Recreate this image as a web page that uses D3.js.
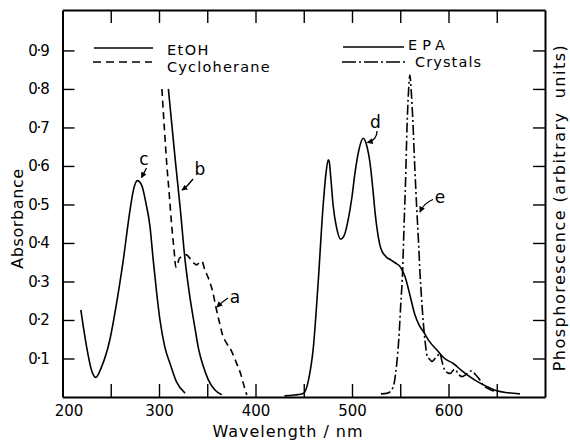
<!DOCTYPE html>
<html><head><meta charset="utf-8">
<script src="https://cdn.jsdelivr.net/npm/d3@7"></script>
<style>
html,body{margin:0;padding:0;background:#fff;}
svg{display:block;font-family:"DejaVu Sans",sans-serif;}
</style></head>
<body>
<svg id="chart" width="570" height="440"></svg>
<script>
// ---- data (wavelength nm, absorbance / relative intensity) ----
const xTicks = [200, 250, 300, 350, 400, 450, 500, 550, 600, 650];
const xLabels = [200, 300, 400, 500, 600];
const yTicks = [0.1, 0.2, 0.3, 0.4, 0.5, 0.6, 0.7, 0.8, 0.9];

// a: Cyclohexane (dashed)
const aWl  = [303, 305.5, 308, 310.5, 313, 315.5, 317.5, 319, 321, 324, 328.5, 332, 336, 339, 342, 344.5, 347.5, 351, 356, 359, 363, 366, 370, 375, 380, 384, 388, 391];
const aAbs = [0.8, 0.7, 0.607, 0.53, 0.45, 0.385, 0.337, 0.342, 0.36, 0.365, 0.369, 0.36, 0.348, 0.343, 0.35, 0.352, 0.33, 0.31, 0.27, 0.233, 0.19, 0.16, 0.14, 0.12, 0.09, 0.065, 0.03, 0.005];
// b: EtOH (solid)
const bWl  = [309.7, 313, 317, 322, 327, 332, 337, 341, 346, 351, 358, 365];
const bAbs = [0.8, 0.715, 0.612, 0.49, 0.356, 0.26, 0.183, 0.125, 0.079, 0.045, 0.018, 0.006];
// c: EtOH (solid)
const cWl  = [219, 225, 230, 234.4, 240.6, 249, 256, 263, 270, 274, 277.5, 282, 286.5, 290.7, 294, 297.6, 301, 306, 311.4, 318, 327];
const cAbs = [0.226, 0.13, 0.07, 0.051, 0.079, 0.148, 0.243, 0.356, 0.486, 0.543, 0.562, 0.55, 0.503, 0.442, 0.356, 0.27, 0.2, 0.13, 0.087, 0.04, 0.01];
// d: EPA (solid)
const dWl  = [430, 440, 450, 455, 460, 465, 470, 473, 475.4, 476.5, 478, 480.6, 484, 488.3, 492, 496, 500, 503, 507, 511.7, 515, 518.7, 522, 524, 527, 530, 535, 540, 545, 550, 555, 560, 565, 570, 574, 580, 588, 596, 605, 613, 622, 630, 640, 650, 662, 674];
const dAbs = [0.003, 0.005, 0.01, 0.045, 0.13, 0.3, 0.494, 0.58, 0.616, 0.61, 0.57, 0.494, 0.44, 0.41, 0.42, 0.46, 0.52, 0.58, 0.64, 0.672, 0.655, 0.607, 0.53, 0.477, 0.42, 0.385, 0.365, 0.356, 0.348, 0.338, 0.312, 0.265, 0.215, 0.185, 0.17, 0.145, 0.122, 0.1, 0.087, 0.07, 0.053, 0.04, 0.027, 0.016, 0.011, 0.008];
// e: Crystals (dash-dot)
const eWl  = [530, 537, 541, 544, 546.5, 548.5, 550.5, 552.5, 554, 555.5, 557, 558.5, 560, 561.5, 563, 565, 567, 569, 570.5, 572, 574, 575.6, 578, 580.5, 583, 586, 589, 591, 593.5, 596, 599, 602, 605, 607, 610, 614, 618, 622, 624, 628, 632.6, 636, 640, 645, 650];
const eAbs = [0.008, 0.01, 0.018, 0.04, 0.09, 0.15, 0.24, 0.33, 0.45, 0.56, 0.7, 0.79, 0.836, 0.79, 0.72, 0.6, 0.494, 0.4, 0.32, 0.26, 0.19, 0.148, 0.105, 0.098, 0.092, 0.1, 0.108, 0.113, 0.09, 0.07, 0.063, 0.061, 0.07, 0.072, 0.06, 0.053, 0.058, 0.066, 0.068, 0.058, 0.044, 0.03, 0.023, 0.017, 0.014];

// ---- chart ----
const svg = d3.select("#chart");
const L = 62.5, R = 545, T = 10, B = 397;
const x = d3.scaleLinear().domain([200, 700]).range([L, R]);
const y = d3.scaleLinear().domain([0, 1.005]).range([B, T]);
const fmtY = d => "0·" + Math.round(d * 10);

function styleAxis(g) {
  g.select(".domain").attr("stroke-width", 2);
  g.selectAll(".tick line").attr("stroke-width", 1.4);
  g.selectAll("text").attr("font-family", "DejaVu Sans").attr("font-size", 15).attr("fill", "#000");
}

svg.append("g").attr("transform", `translate(0,${B})`)
  .call(d3.axisBottom(x).tickValues(xTicks).tickSizeInner(-13).tickSizeOuter(0).tickPadding(8.5)
    .tickFormat(d => xLabels.includes(d) ? String(d) : ""))
  .call(styleAxis)
  .call(g => g.selectAll(".tick").filter(d => d === 200).select("text").attr("dx", 6));

svg.append("g").attr("transform", `translate(0,${T})`)
  .call(d3.axisTop(x).tickValues(xTicks.slice(1)).tickSizeInner(-13).tickSizeOuter(0).tickFormat(""))
  .call(styleAxis);

svg.append("g").attr("transform", `translate(${L},0)`)
  .call(d3.axisLeft(y).tickValues(yTicks).tickSizeInner(-12).tickSizeOuter(0).tickPadding(14).tickFormat(fmtY))
  .call(styleAxis)
  .call(g => g.selectAll("text").attr("letter-spacing", -1.2));

svg.append("g").attr("transform", `translate(${R},0)`)
  .call(d3.axisRight(y).tickValues(yTicks).tickSizeInner(-12).tickSizeOuter(0).tickFormat(""))
  .call(styleAxis);

// curves
const line = d3.line().x(p => x(p[0])).y(p => y(p[1])).curve(d3.curveMonotoneX);
const zip = (w, v) => w.map((d, i) => [d, v[i]]);
const series = [
  { w: aWl, v: aAbs, dash: "7,4.5" },
  { w: bWl, v: bAbs, dash: null },
  { w: cWl, v: cAbs, dash: null },
  { w: dWl, v: dAbs, dash: null },
  { w: eWl, v: eAbs, dash: "10,3,2,3" }
];
series.forEach(s => {
  svg.append("path").attr("d", line(zip(s.w, s.v)))
    .attr("fill", "none").attr("stroke", "#000").attr("stroke-width", 1.6)
    .attr("stroke-dasharray", s.dash);
});

// legends
const leg = [
  { x1: 94, x2: 153, y: 48, dash: null, tx: 167, ty: 55, t: "EtOH", ls: 1.4 },
  { x1: 93, x2: 152, y: 62, dash: "8,5", tx: 167, ty: 72, t: "Cycloherane", ls: 1.2 },
  { x1: 343, x2: 404, y: 47, dash: null, tx: 408, ty: 50, t: "EPA", ls: 5 },
  { x1: 342, x2: 405, y: 62, dash: "14,3,2,3", tx: 415, ty: 67, t: "Crystals", ls: 1.1 }
];
leg.forEach(l => {
  svg.append("line").attr("x1", l.x1).attr("x2", l.x2).attr("y1", l.y).attr("y2", l.y)
    .attr("stroke", "#000").attr("stroke-width", 1.6).attr("stroke-dasharray", l.dash);
  svg.append("text").attr("x", l.tx).attr("y", l.ty).attr("font-size", 14.5)
    .attr("letter-spacing", l.ls).text(l.t);
});

// annotations
svg.append("defs").append("marker").attr("id", "ah").attr("viewBox", "0 0 8 8")
  .attr("refX", 7).attr("refY", 4).attr("markerWidth", 6).attr("markerHeight", 6)
  .attr("orient", "auto").attr("markerUnits", "userSpaceOnUse")
  .append("path").attr("d", "M0,0 L8,4 L0,8 Z").attr("fill", "#000");
const notes = [
  { t: "c", tx: 144, ty: 165, p: "M146.5,168 L141.5,177.5" },
  { t: "b", tx: 200, ty: 175, p: "M193,179 Q188,186 182,190" },
  { t: "a", tx: 235, ty: 303, p: "M228,298 Q222,302 217,307" },
  { t: "d", tx: 375.5, ty: 128, p: "M377,131 Q377,140 367.5,142.5" },
  { t: "e", tx: 440, ty: 203, p: "M433,199.5 Q424,203 420,212" }
];
notes.forEach(n => {
  svg.append("text").attr("x", n.tx).attr("y", n.ty).attr("text-anchor", "middle")
    .attr("font-size", 17).text(n.t);
  svg.append("path").attr("d", n.p).attr("fill", "none").attr("stroke", "#000")
    .attr("stroke-width", 1.3).attr("marker-end", "url(#ah)");
});

// axis titles
svg.append("text").attr("transform", "translate(23,218.5) rotate(-90)")
  .attr("text-anchor", "middle").attr("font-size", 16).attr("letter-spacing", 0.6).text("Absorbance");
svg.append("text").attr("transform", "translate(565,207.5) rotate(-90)")
  .attr("text-anchor", "middle").attr("font-size", 16).attr("letter-spacing", 1.5)
  .style("white-space", "pre").text("Phosphorescence (arbitrary  units)");
svg.append("text").attr("x", 288).attr("y", 437).attr("text-anchor", "middle")
  .attr("font-size", 16).attr("letter-spacing", 1).text("Wavelength / nm");
</script>
</body></html>
